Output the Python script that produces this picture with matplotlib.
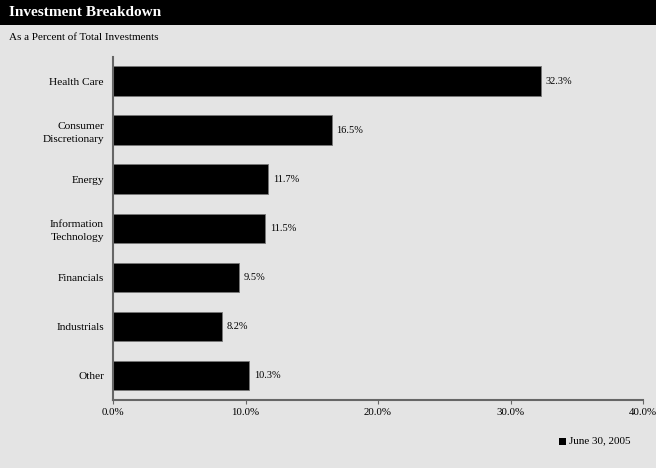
import matplotlib.pyplot as plt
from matplotlib.patches import Rectangle

categories = ["Health Care", "Consumer\nDiscretionary", "Energy", "Information\nTechnology",
              "Financials", "Industrials", "Other"]
values = [32.3, 16.5, 11.7, 11.5, 9.5, 8.2, 10.3]
xticks = [0, 10, 20, 30, 40]
series_name = "June 30, 2005"

bg = "#e4e4e4"
plt.rcParams["font.family"] = ["Liberation Serif", "DejaVu Serif"]

fig = plt.figure(figsize=(6.56, 4.68), dpi=100, facecolor=bg)

# black title bar
fig.patches.append(Rectangle((0, 1 - 25 / 468), 1, 25 / 468, transform=fig.transFigure,
                             facecolor="black", edgecolor="none", zorder=0))
fig.text(9 / 656, 1 - 13 / 468, "Investment Breakdown", color="white", fontsize=11,
         fontweight="bold", va="center", ha="left")
fig.text(9 / 656, 1 - 37 / 468, "As a Percent of Total Investments", fontsize=8,
         va="center", ha="left")

ax = fig.add_axes([113 / 656, 1 - 400 / 468, 530 / 656, 343.5 / 468])
ax.set_facecolor(bg)

ypos = list(range(len(categories)))
ax.barh(ypos, values, height=0.6, color="black", edgecolor="#777777", linewidth=0.6)
for y, v in zip(ypos, values):
    ax.text(v + 0.35, y, f"{v:.1f}%", va="center", ha="left", fontsize=7.5)

ax.set_xlim(0, 40)
ax.set_ylim(len(categories) - 0.5, -0.5)
ax.set_xticks(xticks)
ax.set_xticklabels([f"{t:.1f}%" for t in xticks], fontsize=7.8)
ax.set_yticks(ypos)
ax.set_yticklabels(categories, fontsize=8.2, linespacing=1.6)
ax.tick_params(axis="y", length=0, pad=6.5)
ax.tick_params(axis="x", length=3, color="#666666", pad=3)
for s in ["top", "right"]:
    ax.spines[s].set_visible(False)
for s in ["left", "bottom"]:
    ax.spines[s].set_color("#666666")
    ax.spines[s].set_linewidth(1.5)

# legend
fig.patches.append(Rectangle((559 / 656, 1 - 445 / 468), 7 / 656, 7 / 468,
                             transform=fig.transFigure, facecolor="black", edgecolor="none"))
fig.text(569 / 656, 1 - 441 / 468, series_name, fontsize=8, va="center", ha="left")

fig.savefig("out.png", dpi=100, facecolor=bg)
